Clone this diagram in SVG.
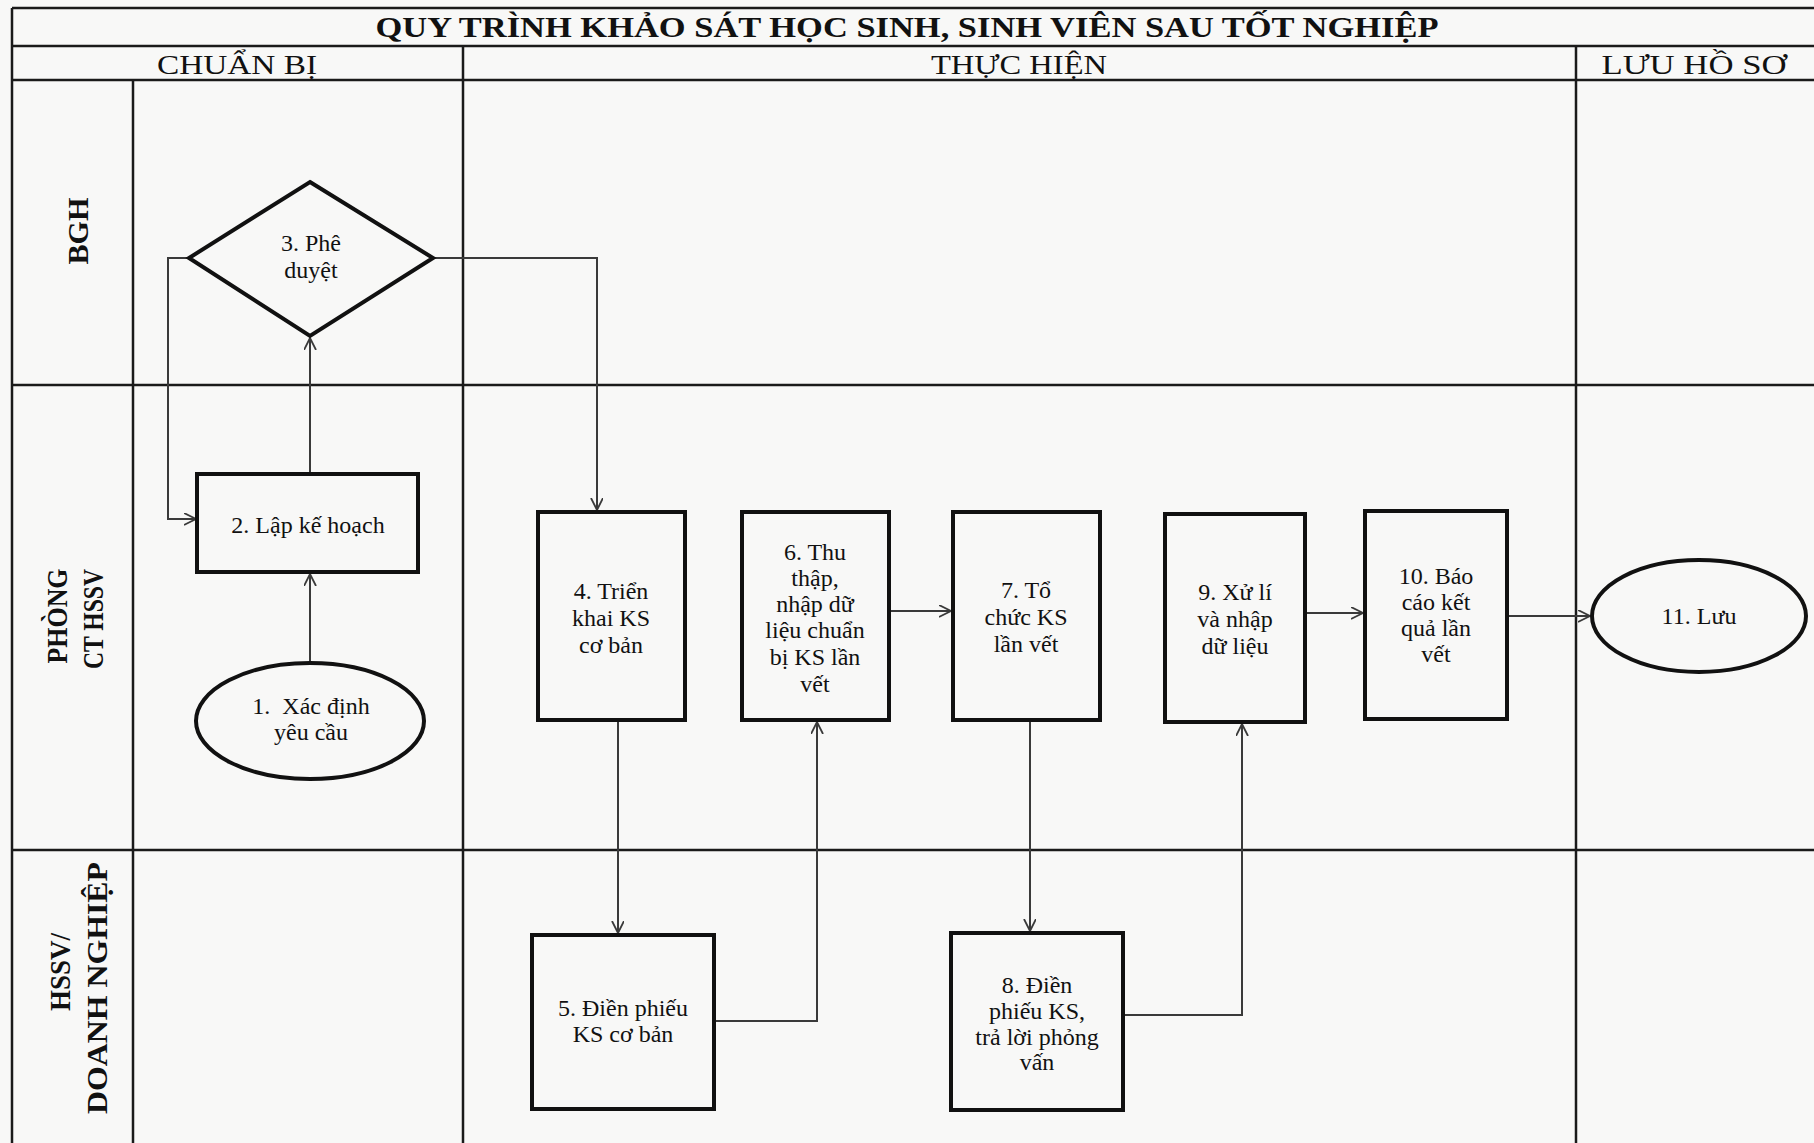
<svg xmlns="http://www.w3.org/2000/svg" width="1814" height="1143" viewBox="0 0 1814 1143">
<style>
.grid{stroke:#1a1a1a;stroke-width:2.5;fill:none}
.node{stroke:#111;stroke-width:4;fill:none}
.conn{stroke:#3a3a3a;stroke-width:2;fill:none}
.t{font-family:"Liberation Serif","Times New Roman",serif;font-size:24px;fill:#111;text-anchor:middle}
.lane{font-family:"Liberation Serif","Times New Roman",serif;font-size:29px;font-weight:bold;fill:#111;text-anchor:middle}
.hdr{font-family:"Liberation Serif","Times New Roman",serif;font-size:28px;fill:#111;text-anchor:middle}
.title{font-family:"Liberation Serif","Times New Roman",serif;font-size:30px;font-weight:bold;fill:#111;text-anchor:middle}
</style>
<defs>
<marker id="arr" markerUnits="userSpaceOnUse" markerWidth="14" markerHeight="14" refX="12" refY="6" orient="auto">
<path d="M0,0 L12,6 L0,12" fill="none" stroke="#3a3a3a" stroke-width="1.8"/>
</marker>
</defs>
<rect x="0" y="0" width="1814" height="1143" fill="#f8f8f7"/>
<g id="grid">
<line class="grid" x1="12" y1="8" x2="1814" y2="8"/>
<line class="grid" x1="12" y1="46" x2="1814" y2="46"/>
<line class="grid" x1="12" y1="80" x2="1814" y2="80"/>
<line class="grid" x1="12" y1="385" x2="1814" y2="385"/>
<line class="grid" x1="12" y1="850" x2="1814" y2="850"/>
<line class="grid" x1="12" y1="8" x2="12" y2="1143"/>
<line class="grid" x1="133" y1="80" x2="133" y2="1143"/>
<line class="grid" x1="463" y1="46" x2="463" y2="1143"/>
<line class="grid" x1="1576" y1="46" x2="1576" y2="1143"/>
</g>
<g id="headers">
<text class="title" x="907" y="37" textLength="1063" lengthAdjust="spacingAndGlyphs">QUY TRÌNH KHẢO SÁT HỌC SINH, SINH VIÊN SAU TỐT NGHIỆP</text>
<text class="hdr" x="237" y="74" textLength="160" lengthAdjust="spacingAndGlyphs">CHUẨN BỊ</text>
<text class="hdr" x="1019" y="74" textLength="176" lengthAdjust="spacingAndGlyphs">THỰC HIỆN</text>
<text class="hdr" x="1694" y="74" textLength="185" lengthAdjust="spacingAndGlyphs">LƯU HỒ SƠ</text>
</g>
<g id="lanes">
<text class="lane" transform="translate(88,231) rotate(-90)" textLength="67" lengthAdjust="spacingAndGlyphs">BGH</text>
<text class="lane" transform="translate(67,616) rotate(-90)" textLength="95" lengthAdjust="spacingAndGlyphs">PHÒNG</text>
<text class="lane" transform="translate(103,619) rotate(-90)" textLength="100" lengthAdjust="spacingAndGlyphs">CT HSSV</text>
<text class="lane" transform="translate(70,972) rotate(-90)" textLength="78" lengthAdjust="spacingAndGlyphs">HSSV/</text>
<text class="lane" transform="translate(107,988) rotate(-90)" textLength="252" lengthAdjust="spacingAndGlyphs">DOANH NGHIỆP</text>
</g>
<g id="connectors">
<path class="conn" d="M310,663 V574" marker-end="url(#arr)"/>
<path class="conn" d="M310,474 V338" marker-end="url(#arr)"/>
<path class="conn" d="M189,258 H168 V519 H196" marker-end="url(#arr)"/>
<path class="conn" d="M433,258 H597 V510" marker-end="url(#arr)"/>
<path class="conn" d="M618,720 V933" marker-end="url(#arr)"/>
<path class="conn" d="M714,1021 H817 V722" marker-end="url(#arr)"/>
<path class="conn" d="M889,611 H951" marker-end="url(#arr)"/>
<path class="conn" d="M1030,720 V931" marker-end="url(#arr)"/>
<path class="conn" d="M1123,1015 H1242 V724" marker-end="url(#arr)"/>
<path class="conn" d="M1305,613 H1363" marker-end="url(#arr)"/>
<path class="conn" d="M1507,616 H1590" marker-end="url(#arr)"/>
</g>
<g id="n1">
<ellipse class="node" cx="310" cy="721" rx="114" ry="58"/>
<text class="t" x="311" y="714" style="white-space:pre" xml:space="preserve">1.  Xác định</text>
<text class="t" x="311" y="740">yêu cầu</text>
</g>
<g id="n2">
<rect class="node" x="197" y="474" width="221" height="98"/>
<text class="t" x="308" y="533">2. Lập kế hoạch</text>
</g>
<g id="n3">
<polygon class="node" points="310,182 433,258 310,336 189,258"/>
<text class="t" x="311" y="251">3. Phê</text>
<text class="t" x="311" y="278">duyệt</text>
</g>
<g id="n4">
<rect class="node" x="538" y="512" width="147" height="208"/>
<text class="t" x="611" y="599">4. Triển</text>
<text class="t" x="611" y="626">khai KS</text>
<text class="t" x="611" y="653">cơ bản</text>
</g>
<g id="n5">
<rect class="node" x="532" y="935" width="182" height="174"/>
<text class="t" x="623" y="1016">5. Điền phiếu</text>
<text class="t" x="623" y="1042">KS cơ bản</text>
</g>
<g id="n6">
<rect class="node" x="742" y="512" width="147" height="208"/>
<text class="t" x="815" y="560">6. Thu</text>
<text class="t" x="815" y="586">thập,</text>
<text class="t" x="815" y="612">nhập dữ</text>
<text class="t" x="815" y="638">liệu chuẩn</text>
<text class="t" x="815" y="665">bị KS lần</text>
<text class="t" x="815" y="692">vết</text>
</g>
<g id="n7">
<rect class="node" x="953" y="512" width="147" height="208"/>
<text class="t" x="1026" y="598">7. Tổ</text>
<text class="t" x="1026" y="625">chức KS</text>
<text class="t" x="1026" y="652">lần vết</text>
</g>
<g id="n8">
<rect class="node" x="951" y="933" width="172" height="177"/>
<text class="t" x="1037" y="993">8. Điền</text>
<text class="t" x="1037" y="1019">phiếu KS,</text>
<text class="t" x="1037" y="1045">trả lời phỏng</text>
<text class="t" x="1037" y="1070">vấn</text>
</g>
<g id="n9">
<rect class="node" x="1165" y="514" width="140" height="208"/>
<text class="t" x="1235" y="600">9. Xử lí</text>
<text class="t" x="1235" y="627">và nhập</text>
<text class="t" x="1235" y="654">dữ liệu</text>
</g>
<g id="n10">
<rect class="node" x="1365" y="511" width="142" height="208"/>
<text class="t" x="1436" y="584">10. Báo</text>
<text class="t" x="1436" y="610">cáo kết</text>
<text class="t" x="1436" y="636">quả lần</text>
<text class="t" x="1436" y="662">vết</text>
</g>
<g id="n11">
<ellipse class="node" cx="1699" cy="616" rx="107" ry="56"/>
<text class="t" x="1699" y="624">11. Lưu</text>
</g>
</svg>
